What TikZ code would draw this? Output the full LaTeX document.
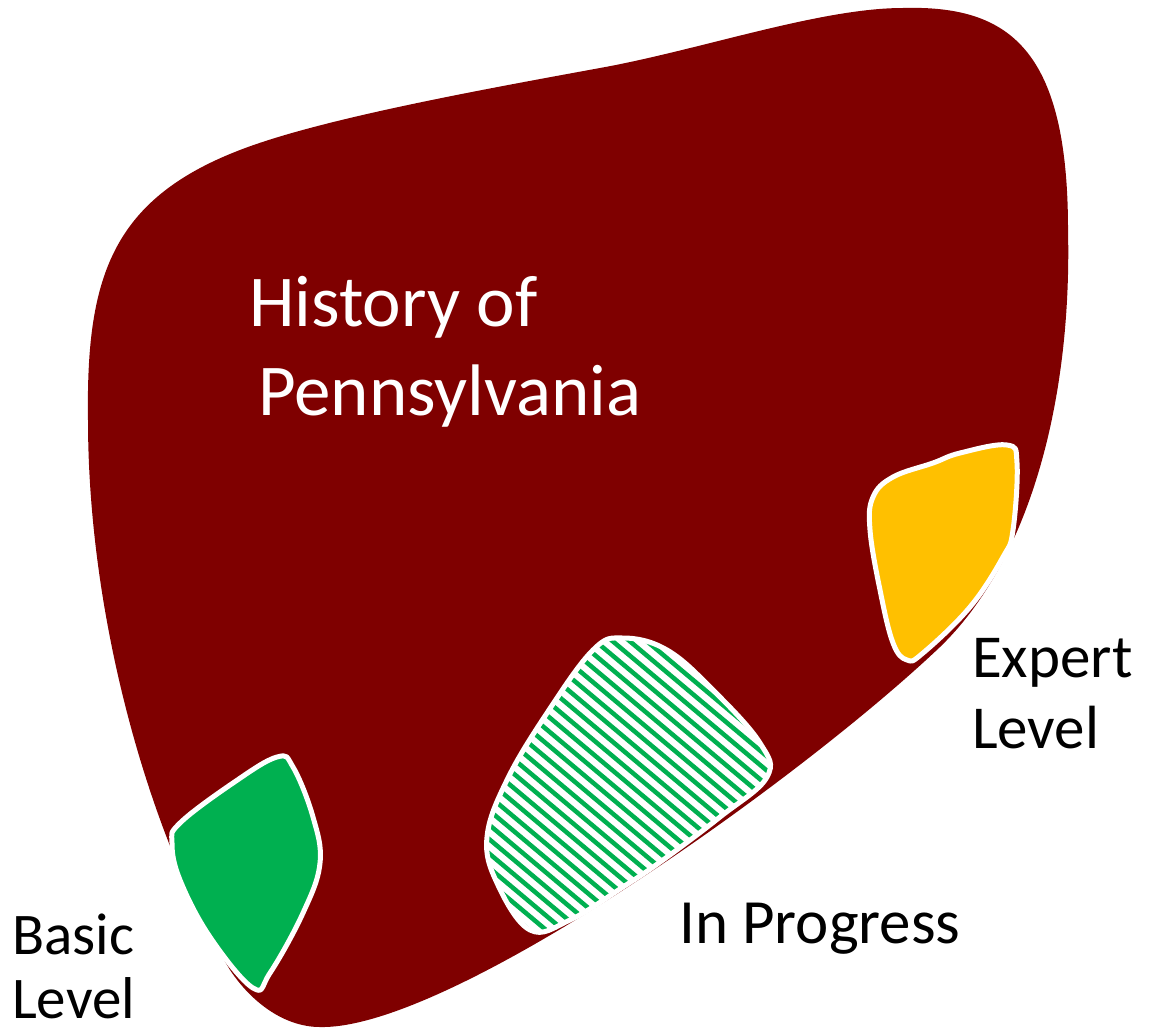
\documentclass[tikz,border=0pt]{standalone}
\usepackage{fontspec}
\setmainfont{Carlito}
\usetikzlibrary{positioning}
\definecolor{blobred}{RGB}{127,0,0}
\definecolor{basicgreen}{RGB}{0,176,80}
\definecolor{expertgold}{RGB}{255,192,0}

\begin{document}
\begin{tikzpicture}[x=1pt, y=-1pt,
    blob/.style={white, line width=5pt, line join=round},
    lbl/.style={inner sep=0pt, anchor=base west, align=left}]
    \useasboundingbox (0,0) rectangle (1158,1030);

    % the whole subject
    \fill[blobred] (903,8) .. controls (1010,5) and (1068,50) .. (1068,230)
        .. controls (1072,400) and (1030,560) .. (940,647)
        .. controls (800,780) and (450,1030) .. (320,1027)
        .. controls (285,1027) and (252,1003) .. (230,970)
        .. controls (150,837) and (88,620) .. (88,420)
        .. controls (86,280) and (110,200) .. (240,150)
        .. controls (320,119) and (480,90) .. (600,68)
        .. controls (700,50) and (820,8) .. cycle;

    % basic level
    \filldraw[blob, fill=basicgreen] plot[smooth cycle, tension=0.65] coordinates {
        (277,757) (233,783) (180,823) (172,843) (180,880) (210,937) (253,988)
        (270,973) (303,913) (320,863) (313,817) (293,767)};

    % expert level
    \filldraw[blob, fill=expertgold] plot[smooth cycle, tension=0.65] coordinates {
        (1007,445) (960,453) (933,463) (893,477) (873,497) (870,530) (880,590)
        (893,643) (907,660) (923,653) (970,607) (1003,557) (1013,530) (1017,463)};

    % in progress, hatched
    \begin{scope}
        \clip plot[smooth cycle, tension=0.65] coordinates {
            (623,638) (593,650) (547,713) (507,780) (487,837) (497,883) (530,930)
            (570,920) (623,887) (663,860) (720,817) (767,777) (760,743) (713,690)
            (667,650)};
        \fill[white] (470,620) rectangle (790,950);
        \foreach \k in {-30,...,30}
            \draw[basicgreen, line width=4.5pt, rotate around={-40:(630,785)}]
                (380,785+11*\k) -- (880,785+11*\k);
    \end{scope}
    \draw[blob] plot[smooth cycle, tension=0.65] coordinates {
        (623,638) (593,650) (547,713) (507,780) (487,837) (497,883) (530,930)
        (570,920) (623,887) (663,860) (720,817) (767,777) (760,743) (713,690)
        (667,650)};

    % labels
    \node[lbl, text=white, font=\fontsize{73}{89.5}\selectfont] (title) at (249,415.7)
        {History of\\\hspace*{9pt}Pennsylvania};
    \node[lbl, font=\fontsize{59}{64}\selectfont] (basic) at (12,1018) {Basic\\Level};
    \node[lbl, font=\fontsize{63}{72}\selectfont] (progress) at (679,943) {In Progress};
    \node[lbl, font=\fontsize{61}{71}\selectfont] (expert) at (972,748) {Expert\\Level};

\end{tikzpicture}
\end{document}
